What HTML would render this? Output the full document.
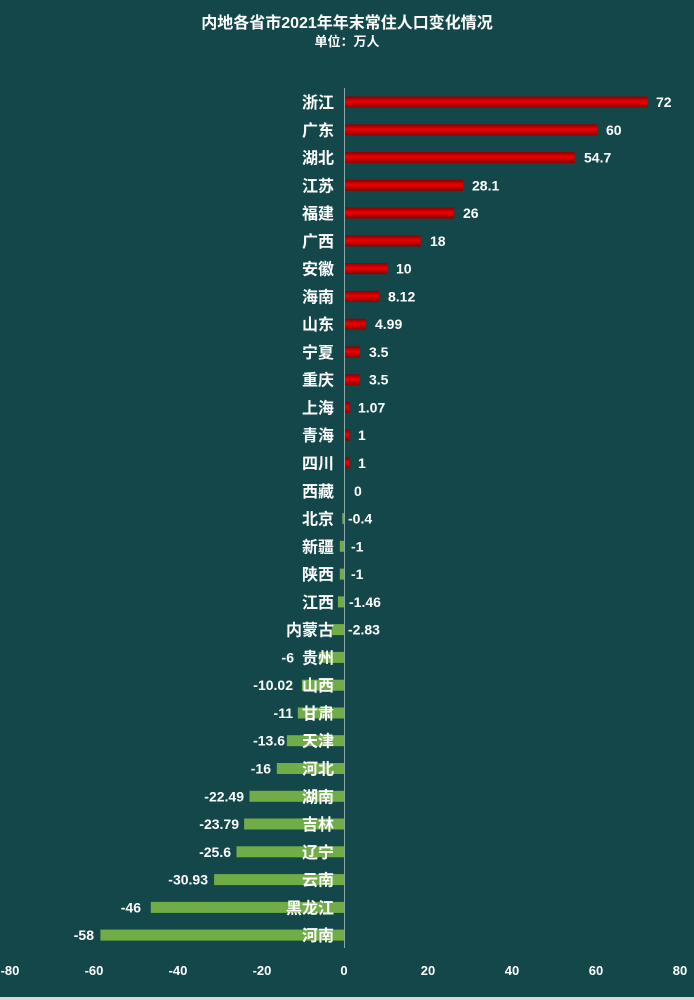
<!DOCTYPE html><html><head><meta charset="utf-8"><style>
html,body{margin:0;padding:0;background:#d9d9d9}
svg{display:block}
text{font-family:"Liberation Sans","Noto Sans CJK SC",sans-serif;font-weight:bold;fill:#fff}
</style></head><body>
<svg width="694" height="1000" xmlns="http://www.w3.org/2000/svg">
<defs><linearGradient id="r" x1="0" y1="0" x2="0" y2="1"><stop offset="0" stop-color="#8a0000"/><stop offset="0.45" stop-color="#ee0000"/><stop offset="1" stop-color="#8a0000"/></linearGradient></defs>
<rect x="0" y="0" width="694" height="997" fill="#14474a"/>
<text x="347" y="28" font-size="16" text-anchor="middle">内地各省市2021年年末常住人口变化情况</text>
<text x="347" y="46" font-size="13" text-anchor="middle">单位：万人</text>
<line x1="344.5" y1="88" x2="344.5" y2="948" stroke="#8fa9aa" stroke-width="1"/>
<g fill="url(#r)">
<rect x="345" y="96.5" width="302.4" height="11"/>
<rect x="345" y="124.3" width="252" height="11"/>
<rect x="345" y="152" width="229.7" height="11"/>
<rect x="345" y="179.8" width="118" height="11"/>
<rect x="345" y="207.6" width="109.2" height="11"/>
<rect x="345" y="235.4" width="75.6" height="11"/>
<rect x="345" y="263.1" width="42" height="11"/>
<rect x="345" y="290.9" width="34.1" height="11"/>
<rect x="345" y="318.7" width="21" height="11"/>
<rect x="345" y="346.4" width="14.7" height="11"/>
<rect x="345" y="374.2" width="14.7" height="11"/>
<rect x="345" y="402" width="4.5" height="11"/>
<rect x="345" y="429.7" width="4.2" height="11"/>
<rect x="345" y="457.5" width="4.2" height="11"/>
</g>
<g fill="#70ad47">
<rect x="342.3" y="513.1" width="1.7" height="11"/>
<rect x="339.8" y="540.8" width="4.2" height="11"/>
<rect x="339.8" y="568.6" width="4.2" height="11"/>
<rect x="337.9" y="596.4" width="6.1" height="11"/>
<rect x="332.1" y="624.1" width="11.9" height="11"/>
<rect x="318.8" y="651.9" width="25.2" height="11"/>
<rect x="301.9" y="679.7" width="42.1" height="11"/>
<rect x="297.8" y="707.5" width="46.2" height="11"/>
<rect x="286.9" y="735.2" width="57.1" height="11"/>
<rect x="276.8" y="763" width="67.2" height="11"/>
<rect x="249.5" y="790.8" width="94.5" height="11"/>
<rect x="244.1" y="818.5" width="99.9" height="11"/>
<rect x="236.5" y="846.3" width="107.5" height="11"/>
<rect x="214.1" y="874.1" width="129.9" height="11"/>
<rect x="150.8" y="901.9" width="193.2" height="11"/>
<rect x="100.4" y="929.6" width="243.6" height="11"/>
</g>
<g font-size="16" text-anchor="end">
<text x="334" y="108">浙江</text><text x="334" y="135.8">广东</text><text x="334" y="163.5">湖北</text><text x="334" y="191.3">江苏</text><text x="334" y="219.1">福建</text><text x="334" y="246.9">广西</text><text x="334" y="274.6">安徽</text><text x="334" y="302.4">海南</text><text x="334" y="330.2">山东</text><text x="334" y="357.9">宁夏</text><text x="334" y="385.7">重庆</text><text x="334" y="413.5">上海</text><text x="334" y="441.2">青海</text><text x="334" y="469">四川</text><text x="334" y="496.8">西藏</text><text x="334" y="524.6">北京</text><text x="334" y="552.3">新疆</text><text x="334" y="580.1">陕西</text><text x="334" y="607.9">江西</text><text x="334" y="635.6">内蒙古</text><text x="334" y="663.4">贵州</text><text x="334" y="691.2">山西</text><text x="334" y="719">甘肃</text><text x="334" y="746.7">天津</text><text x="334" y="774.5">河北</text><text x="334" y="802.3">湖南</text><text x="334" y="830">吉林</text><text x="334" y="857.8">辽宁</text><text x="334" y="885.6">云南</text><text x="334" y="913.4">黑龙江</text><text x="334" y="941.1">河南</text>
</g>
<g font-size="14">
<text x="656" y="107">72</text><text x="606" y="134.8">60</text><text x="584" y="162.5">54.7</text><text x="472" y="190.3">28.1</text><text x="463" y="218.1">26</text><text x="430" y="245.9">18</text><text x="396" y="273.6">10</text><text x="388" y="301.4">8.12</text><text x="375" y="329.2">4.99</text><text x="369" y="356.9">3.5</text><text x="369" y="384.7">3.5</text><text x="358" y="412.5">1.07</text><text x="358" y="440.2">1</text><text x="358" y="468">1</text><text x="354" y="495.8">0</text>
<text x="348" y="523.6">-0.4</text><text x="351" y="551.3">-1</text><text x="351" y="579.1">-1</text><text x="349" y="606.9">-1.46</text><text x="348" y="634.6">-2.83</text>
</g>
<g font-size="14" text-anchor="end">
<text x="294" y="662.4">-6</text><text x="293" y="690.2">-10.02</text><text x="293" y="718">-11</text><text x="285" y="745.7">-13.6</text><text x="271" y="773.5">-16</text><text x="244" y="801.3">-22.49</text><text x="239" y="829">-23.79</text><text x="231" y="856.8">-25.6</text><text x="208" y="884.6">-30.93</text><text x="141" y="912.4">-46</text><text x="94" y="940.1">-58</text>
</g>
<g font-size="13" text-anchor="middle">
<text x="10" y="975">-80</text><text x="94" y="975">-60</text><text x="178" y="975">-40</text><text x="262" y="975">-20</text><text x="344" y="975">0</text><text x="428" y="975">20</text><text x="512" y="975">40</text><text x="596" y="975">60</text><text x="680" y="975">80</text>
</g>
</svg></body></html>
